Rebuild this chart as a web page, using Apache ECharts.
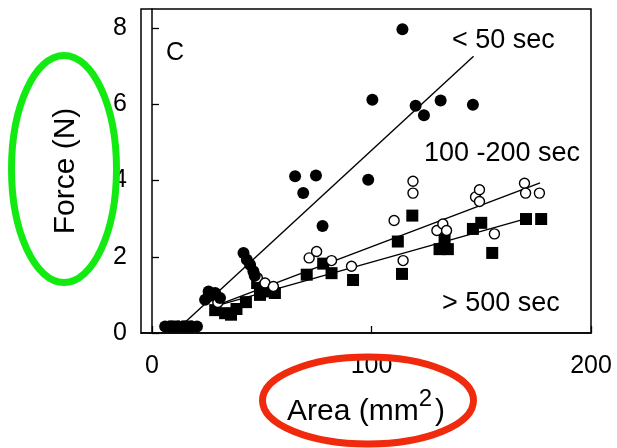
<!DOCTYPE html>
<html>
<head>
<meta charset="utf-8">
<script src="https://cdn.jsdelivr.net/npm/echarts@6/dist/echarts.min.js"></script>
<style>
  html, body { margin: 0; padding: 0; background: #fff; }
  #chart { width: 617px; height: 448px; }
</style>
</head>
<body>
<div id="chart"></div>
<script>
// Force vs. contact area, grouped by hold duration
var fastHold = [ // < 50 sec, filled circles
  [6, 0.17], [9, 0.17], [12, 0.17], [15, 0.17], [18, 0.17], [20.5, 0.17],
  [24.2, 0.87], [25.8, 1.09], [26.5, 0.98], [28.8, 1.05], [31, 0.92],
  [41.7, 2.10], [43.2, 1.92], [44.7, 1.79], [46.2, 1.62], [46.8, 1.50],
  [65.2, 4.11], [68.9, 3.67], [74.7, 4.13], [77.7, 2.81], [98.5, 4.02],
  [100.4, 6.12], [114.1, 7.97], [120.1, 5.96], [123.9, 5.71], [131.5, 6.10], [146.2, 5.99]
];
var midHold = [ // 100-200 sec, open circles
  [8, 0.17], [14, 0.17], [30, 0.80],
  [48, 1.45], [51.5, 1.31], [55.3, 1.22],
  [71.6, 1.97], [75, 2.14], [81.8, 1.90], [90.9, 1.75],
  [110.3, 2.95], [114.4, 1.90], [118.9, 3.67], [118.9, 3.98],
  [129.8, 2.69], [132.5, 2.86], [134.2, 2.69],
  [147.4, 3.57], [149.2, 3.45], [149.2, 3.76], [156, 2.60],
  [169.7, 3.93], [170.2, 3.67], [176.5, 3.67]
];
var longHold = [ // > 500 sec, filled squares
  [10, 0.17], [16, 0.17],
  [28.8, 0.60], [33.3, 0.52], [36, 0.48], [38.5, 0.63], [42.8, 0.81],
  [47.9, 1.31], [49.2, 1.00], [53, 1.09], [56, 1.05],
  [70.5, 1.53], [78, 1.82], [81.8, 1.57], [91.6, 1.39],
  [112, 2.40], [113.9, 1.55], [118.6, 3.08],
  [131, 2.20], [133.3, 2.45], [134.8, 2.20],
  [146.2, 2.73], [150, 2.89], [155, 2.10], [170.4, 2.99], [177.3, 2.99]
];
// fitted trend lines (end points)
var fastFit = [[13, 0.17], [146.5, 7.26]];
var midFit = [[28, 0.69], [176.8, 3.94]];
var longFit = [[28, 0.69], [170.5, 3.0]];

var xTicks = [0, 100, 200];
var yTicks = [0, 2, 4, 6, 8];
var groupLabels = ['< 50 sec', '100 -200 sec', '> 500 sec'];

var FONT = '"Liberation Sans", Arial, sans-serif';

var chart = echarts.init(document.getElementById('chart'), null, { renderer: 'canvas' });

function fitLine(data) {
  return {
    type: 'line', data: data, symbol: 'none', silent: true, z: 2,
    lineStyle: { color: '#000', width: 1.4 }, animation: false
  };
}

chart.setOption({
  animation: false,
  backgroundColor: '#fff',
  grid: {
    left: 141, right: 26, top: 9, bottom: 115,
    show: true, borderColor: '#000', borderWidth: 1.5, backgroundColor: 'transparent'
  },
  xAxis: {
    type: 'value', min: -5, max: 200,
    splitLine: { show: false },
    axisLine: { lineStyle: { color: '#000', width: 1.5 } },
    axisTick: { inside: true, length: 7, lineStyle: { color: '#000', width: 1.3 }, customValues: xTicks },
    axisLabel: { color: '#000', fontSize: 25, fontFamily: FONT, margin: 21, customValues: xTicks },
    name: '{a|Area (mm}{s|2}{a|)}',
    nameLocation: 'middle', nameGap: 54,
    nameTextStyle: {
      color: '#000', fontFamily: FONT,
      rich: {
        a: { fontSize: 30, fontFamily: FONT, color: '#000', lineHeight: 40, verticalAlign: 'bottom' },
        s: { fontSize: 24, fontFamily: FONT, color: '#000', lineHeight: 40, verticalAlign: 'top', padding: [0, 3, 0, 0] }
      }
    }
  },
  yAxis: {
    type: 'value', min: 0, max: 8.5,
    splitLine: { show: false },
    axisLine: { lineStyle: { color: '#000', width: 1.5 } },
    axisTick: { inside: true, length: 7, lineStyle: { color: '#000', width: 1.3 }, customValues: yTicks },
    axisLabel: { color: '#000', fontSize: 25, fontFamily: FONT, margin: 14, customValues: yTicks },
    name: 'Force (N)',
    nameLocation: 'middle', nameRotate: 90, nameGap: 60,
    nameTextStyle: { color: '#000', fontSize: 30, fontFamily: FONT }
  },
  series: [
    fitLine(fastFit),
    fitLine(midFit),
    fitLine(longFit),
    {
      type: 'scatter', name: groupLabels[2], data: longHold, symbol: 'rect', symbolSize: 12, z: 3,
      itemStyle: { color: '#000', opacity: 1 }
    },
    {
      type: 'scatter', name: groupLabels[1], data: midHold, symbol: 'circle', symbolSize: 10, z: 4,
      itemStyle: { color: '#fff', borderColor: '#000', borderWidth: 1.4, opacity: 1 }
    },
    {
      type: 'scatter', name: groupLabels[0], data: fastHold, symbol: 'circle', symbolSize: 12, z: 5,
      itemStyle: { color: '#000', opacity: 1 }
    }
  ],
  graphic: [
    { type: 'text', left: 166, top: 41, style: { text: 'C', font: '25px ' + FONT, fill: '#000' } },
    { type: 'text', left: 452, top: 27, style: { text: groupLabels[0], font: '27px ' + FONT, fill: '#000' } },
    { type: 'text', left: 424, top: 140, style: { text: groupLabels[1], font: '27px ' + FONT, fill: '#000' } },
    { type: 'text', left: 442, top: 290, style: { text: groupLabels[2], font: '27px ' + FONT, fill: '#000' } },
    {
      type: 'ellipse', z: 100,
      shape: { cx: 64, cy: 169, rx: 52.5, ry: 113.5 },
      style: { fill: 'none', stroke: '#12ea12', lineWidth: 7 }
    },
    {
      type: 'ellipse', z: 100,
      shape: { cx: 368, cy: 400.5, rx: 105.5, ry: 43.5 },
      style: { fill: 'none', stroke: '#f02a0c', lineWidth: 7 }
    }
  ]
});
</script>
</body>
</html>
